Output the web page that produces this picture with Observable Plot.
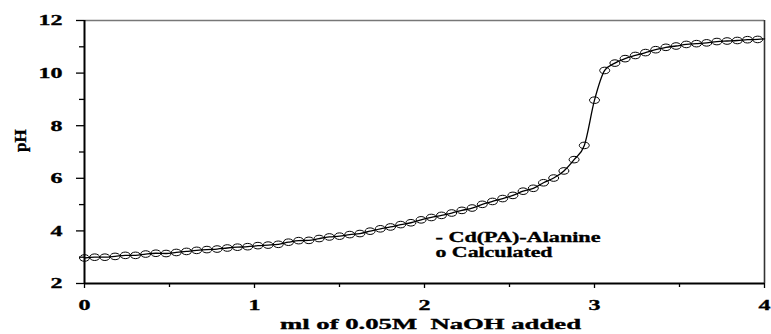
<!DOCTYPE html>
<html>
<head>
<meta charset="utf-8">
<script src="https://cdn.jsdelivr.net/npm/d3@7"></script>
<script src="https://cdn.jsdelivr.net/npm/@observablehq/plot@0.6"></script>
<style>
  html, body { margin: 0; padding: 0; background: #fff; }
  #chart svg { display: block; }
  #chart svg text { stroke: black; stroke-width: 0.35px; }
</style>
</head>
<body>
<div id="chart"></div>
<script>
// ml of 0.05 M NaOH added (calculated points)
const volume = [
  0.00, 0.06, 0.12, 0.18, 0.24, 0.30, 0.36, 0.42, 0.48, 0.54, 0.60, 0.66, 0.72, 0.78, 0.84, 0.90, 0.96,
  1.02, 1.08, 1.14, 1.20, 1.26, 1.32, 1.38, 1.44, 1.50, 1.56, 1.62, 1.68, 1.74, 1.80, 1.86, 1.92, 1.98,
  2.04, 2.10, 2.16, 2.22, 2.28, 2.34, 2.40, 2.46, 2.52, 2.58, 2.64, 2.70, 2.76, 2.82, 2.88, 2.94,
  3.00, 3.06, 3.12, 3.18, 3.24, 3.30, 3.36, 3.42, 3.48, 3.54, 3.60, 3.66, 3.72, 3.78, 3.84, 3.90, 3.96
];
// calculated pH
const pH = [
  2.97, 3.00, 3.00, 3.03, 3.07, 3.07, 3.12, 3.15, 3.14, 3.18, 3.22, 3.26, 3.29, 3.31, 3.35, 3.38, 3.40,
  3.44, 3.46, 3.49, 3.57, 3.63, 3.64, 3.71, 3.77, 3.80, 3.86, 3.90, 3.99, 4.08, 4.15, 4.24, 4.31, 4.42,
  4.51, 4.59, 4.68, 4.78, 4.87, 5.01, 5.12, 5.23, 5.35, 5.51, 5.62, 5.83, 6.01, 6.28, 6.71, 7.25,
  8.97, 10.10, 10.38, 10.55, 10.67, 10.78, 10.89, 10.98, 11.03, 11.09, 11.12, 11.15, 11.20, 11.22, 11.24, 11.27, 11.28
];
// experimental curve: follows the points and runs on to the end of the axis
const lineVolume = [...volume, 4.00];
const linePH = [...pH, 11.30];

const xTicks = [0, 1, 2, 3, 4];
const xMinorTicks = [0.5, 1.5, 2.5, 3.5];
const yTicks = [2, 4, 6, 8, 10, 12];
const yMinorTicks = [3, 5, 7, 9, 11];

const xTitle = "ml of 0.05M  NaOH added";
const yTitle = "pH";
const legendLine1 = "- Cd(PA)-Alanine";
const legendLine2 = "o Calculated";

const points = volume.map((v, i) => ({v, p: pH[i]}));
const curve = lineVolume.map((v, i) => ({v, p: linePH[i]}));

// horizontally stretched open ellipse marker
const ellipse = {
  draw(ctx) {
    const rx = 5, ry = 3.3, k = 0.5523;
    ctx.moveTo(rx, 0);
    ctx.bezierCurveTo(rx, ry * k, rx * k, ry, 0, ry);
    ctx.bezierCurveTo(-rx * k, ry, -rx, ry * k, -rx, 0);
    ctx.bezierCurveTo(-rx, -ry * k, -rx * k, -ry, 0, -ry);
    ctx.bezierCurveTo(rx * k, -ry, rx, -ry * k, rx, 0);
    ctx.closePath();
  }
};

const font = '"Liberation Serif", "Times New Roman", serif';
const fmt = d => String(d);

const chart = Plot.plot({
  width: 771,
  height: 334,
  marginLeft: 84,
  marginRight: 7,
  marginTop: 20,
  marginBottom: 51,
  x: {domain: [0, 4]},
  y: {domain: [2, 12]},
  style: {fontFamily: font, fontSize: "15px", fontWeight: "bold", color: "black", background: "white"},
  marks: [
    Plot.ruleY([12], {stroke: "#777", strokeWidth: 1.6}),
    Plot.ruleX([4], {stroke: "#333", strokeWidth: 1.6}),
    Plot.line(curve, {x: "v", y: "p", curve: "monotone-x", stroke: "black", strokeWidth: 1.3}),
    Plot.dot(points, {x: "v", y: "p", symbol: ellipse, stroke: "black", fill: "none", strokeWidth: 1}),
    Plot.axisY(yTicks, {tickSize: 8, tickPadding: 14, tickFormat: fmt, label: null, strokeWidth: 1.3}),
    Plot.axisY(yMinorTicks, {tickSize: 5, text: null, label: null, strokeWidth: 1.3}),
    Plot.axisX(xTicks, {tickSize: 5, tickPadding: 11, tickFormat: fmt, label: null, strokeWidth: 1.3}),
    Plot.axisX(xMinorTicks, {tickSize: 4, text: null, label: null, strokeWidth: 1.3}),
    Plot.ruleX([0], {stroke: "black", strokeWidth: 2}),
    Plot.ruleY([2], {stroke: "black", strokeWidth: 2}),
    Plot.text([legendLine1], {text: d => d, frameAnchor: "bottom-left", dx: 351, dy: -42, textAnchor: "start", fontSize: 15}),
    Plot.text([legendLine2], {text: d => d, frameAnchor: "bottom-left", dx: 351, dy: -27, textAnchor: "start", fontSize: 15}),
    Plot.text([xTitle], {text: d => d, frameAnchor: "bottom", dx: 6, dy: 45, fontSize: 15}),
    Plot.text([yTitle], {text: d => d, frameAnchor: "left", dx: -64, rotate: -90, fontSize: 17})
  ]
});

document.getElementById("chart").appendChild(chart);

// emulate the horizontally stretched lettering of the original
const targets = {};
targets[legendLine1] = 165;
targets[legendLine2] = 117;
targets[xTitle] = 301;
chart.querySelectorAll("text").forEach(t => {
  const s = t.textContent;
  if (s === yTitle) return;
  const len = t.getComputedTextLength();
  const target = targets[s] !== undefined ? targets[s] : len * 1.6;
  t.setAttribute("textLength", target);
  t.setAttribute("lengthAdjust", "spacingAndGlyphs");
  t.style.whiteSpace = "pre";
});
</script>
</body>
</html>
